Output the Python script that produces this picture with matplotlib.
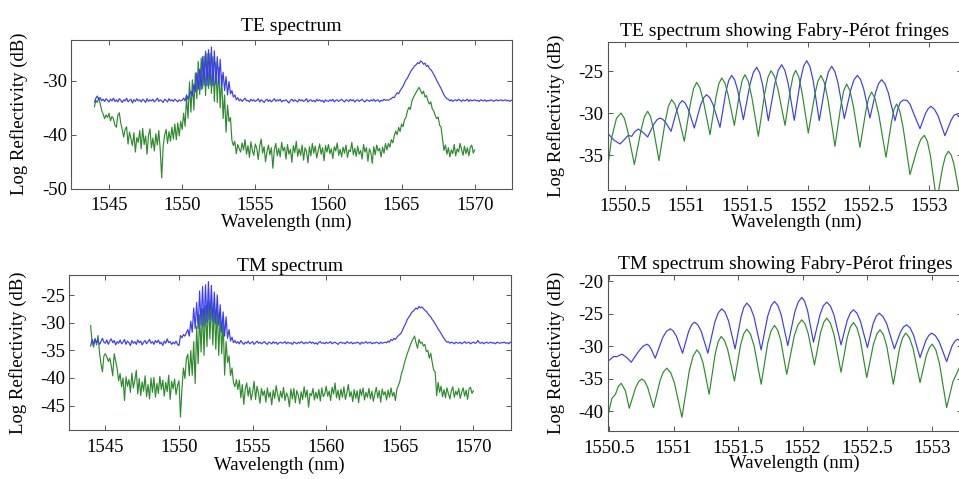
import numpy as np
import matplotlib
matplotlib.use("Agg")
import matplotlib.pyplot as plt

plt.rcParams['font.family'] = ['Liberation Serif', 'DejaVu Serif']
plt.rcParams['axes.unicode_minus'] = False

# ---------------- full spectra, sampled every 0.1 nm from 1544.0 nm ----------------
WL_START = 1544.0
WL_STEP = 0.1

te_green = [
    -34.8, -33.6, -34.0, -33.1, -34.3, -35.5, -36.2, -37.0, -36.3, -36.8,
    -36.0, -37.4, -36.6, -37.0, -38.2, -38.6, -36.4, -35.9, -37.8, -39.0,
    -40.4, -39.0, -38.5, -41.7, -39.5, -40.8, -42.0, -39.6, -43.2, -40.5,
    -41.4, -39.2, -42.6, -38.8, -41.8, -40.2, -43.6, -40.0, -38.9, -42.4,
    -40.6, -43.0, -39.8, -41.9, -39.2, -42.8, -48.0, -42.2, -40.1, -39.0,
    -41.6, -39.4, -41.2, -38.6, -40.8, -38.0, -40.9, -37.8, -40.2, -37.5,
    -39.0, -36.0, -38.4, -33.0, -36.9, -30.2, -35.8, -29.8, -35.4, -28.5,
    -33.3, -26.4, -32.5, -25.8, -31.4, -25.4, -32.7, -24.9, -31.4, -24.9,
    -32.3, -25.5, -33.8, -26.5, -34.0, -27.5, -35.0, -28.9, -37.0, -32.6,
    -39.5, -34.5, -37.5, -36.8, -41.0, -42.0, -41.2, -43.5, -41.8, -42.6,
    -43.2, -41.5, -42.8, -40.9, -43.6, -42.0, -44.2, -41.3, -42.9, -43.8,
    -41.7, -42.5, -44.6, -42.1, -40.8, -43.4, -42.2, -45.0, -43.1, -41.9,
    -43.7, -42.4, -46.2, -42.8, -41.6, -43.9, -42.5, -44.1, -41.4, -43.0,
    -42.3, -44.5, -41.8, -43.6, -42.7, -45.1, -42.0, -43.3, -41.2, -44.0,
    -42.6, -43.8, -41.9, -44.7, -42.4, -43.1, -45.2, -42.2, -43.9, -41.6,
    -43.4, -42.1, -44.3, -42.9, -41.7, -43.6, -42.4, -44.8, -42.0, -43.2,
    -41.8, -43.5, -42.6, -44.4, -42.2, -43.0, -41.5, -43.8, -42.7, -44.1,
    -42.3, -43.4, -41.9, -44.2, -42.8, -43.1, -41.4, -43.7, -42.5, -44.0,
    -42.1, -43.6, -42.9, -44.5, -41.8, -43.2, -42.4, -44.9, -42.6, -43.3,
    -45.3, -42.2, -43.7, -41.9, -43.0, -42.5, -44.1, -42.3, -43.4, -41.6,
    -42.8, -41.6, -42.3, -40.9, -41.5, -40.2, -39.3, -40.0, -38.6, -39.4,
    -38.0, -38.5, -37.2, -36.8, -35.6, -34.9, -35.3, -33.8, -33.1, -32.6,
    -32.1, -31.6, -31.2, -31.8, -32.4, -31.9, -33.0, -32.7, -33.7, -34.3,
    -33.9, -35.2, -35.6, -36.4, -37.0, -36.7, -38.2, -38.6, -40.8, -42.9,
    -41.9, -43.6, -42.4, -44.1, -42.8, -43.5, -41.8, -43.9, -42.6, -43.2,
    -41.6, -42.7, -43.8, -42.1, -43.5, -42.4, -43.9, -42.3, -41.9, -43.4,
    -42.8,
]

te_blue = [
    -33.9, -33.2, -32.8, -33.5, -33.1, -33.7, -33.4, -33.8, -33.3, -33.6,
    -33.9, -33.4, -33.7, -33.2, -33.8, -33.5, -33.9, -33.3, -33.6, -34.0,
    -33.5, -33.7, -33.2, -33.9, -33.6, -33.4, -34.1, -33.5, -33.8, -33.3,
    -33.7, -33.5, -33.9, -33.4, -33.6, -34.0, -33.3, -33.8, -33.5, -33.7,
    -33.4, -33.9, -33.6, -33.2, -33.8, -33.5, -33.7, -34.0, -33.4, -33.6,
    -33.9, -33.3, -33.7, -33.5, -33.8, -33.4, -33.6, -33.9, -33.5, -33.7,
    -33.6, -33.2, -33.7, -32.6, -33.4, -32.6, -31.9, -32.8, -30.6, -32.0,
    -28.5, -31.6, -27.8, -31.6, -25.5, -30.8, -24.5, -30.9, -24.2, -30.8,
    -23.7, -30.9, -24.4, -30.6, -25.5, -30.6, -26.0, -30.9, -28.4, -31.8,
    -29.2, -32.6, -30.1, -32.4, -31.8, -33.0, -32.6, -33.5, -33.1, -33.7,
    -33.4, -33.8, -33.5, -33.2, -33.7, -33.6, -33.9, -33.4, -33.7, -33.5,
    -33.8, -33.6, -33.3, -33.9, -33.5, -33.7, -34.0, -33.6, -33.4, -33.8,
    -33.5, -33.9, -33.6, -33.3, -33.8, -33.5, -33.7, -33.4, -33.9, -33.6,
    -33.7, -33.5, -33.8, -34.1, -33.6, -33.4, -33.8, -33.5, -33.7, -33.9,
    -33.4, -33.7, -33.5, -33.8, -33.6, -33.3, -33.9, -33.6, -33.5, -33.8,
    -33.6, -33.9, -33.4, -33.7, -33.5, -33.8, -33.6, -34.0, -33.5, -33.7,
    -33.8, -33.5, -33.7, -33.4, -33.9, -33.6, -33.5, -33.8, -33.6, -33.4,
    -33.7, -33.9, -33.5, -33.6, -33.8, -33.4, -33.7, -33.5, -33.9, -33.6,
    -33.5, -33.8, -33.6, -33.4, -33.7, -33.9, -33.5, -33.6, -33.8, -33.5,
    -33.7, -33.4, -33.8, -33.6, -33.5, -33.9, -33.6, -33.7, -33.4, -33.6,
    -33.5, -33.6, -33.4, -33.3, -33.0, -33.1, -32.6, -32.2, -32.4, -31.8,
    -31.4, -31.0, -30.4, -29.8, -29.5, -28.9, -28.4, -27.9, -27.6, -27.2,
    -27.0, -26.6, -26.8, -26.3, -26.5, -26.9, -26.7, -27.3, -27.1, -27.7,
    -27.9, -28.3, -28.8, -29.3, -29.9, -30.4, -30.9, -31.4, -32.0, -32.6,
    -33.0, -33.3, -33.4, -33.7, -33.5, -33.8, -33.6, -33.5, -33.7, -33.4,
    -33.6, -33.8, -33.5, -33.7, -33.6, -33.4, -33.8, -33.5, -33.7, -33.6,
    -33.5, -33.7, -33.6, -33.8, -33.5, -33.6, -33.7, -33.5, -33.8, -33.6,
    -33.7, -33.5, -33.6, -33.8, -33.6, -33.5, -33.7, -33.6, -33.5, -33.7,
    -33.6, -33.5, -33.7, -33.6, -33.8, -33.6, -33.5,
]

tm_green = [
    -30.5, -33.6, -34.4, -32.9, -34.0, -32.3, -35.3, -37.4, -38.9, -36.0,
    -35.6, -36.2, -37.0, -36.4, -37.8, -39.6, -35.6, -36.9, -38.3, -40.5,
    -39.2, -41.6, -40.0, -44.1, -39.8, -41.5, -40.3, -42.6, -39.1, -41.8,
    -40.4, -38.6, -42.9, -40.1, -43.2, -40.7, -42.4, -39.6, -43.4, -41.2,
    -43.8, -40.0, -42.6, -39.9, -43.5, -41.0, -42.8, -39.7, -42.1, -40.4,
    -43.3, -40.8, -42.5, -39.5, -43.9, -40.6, -42.0, -40.2, -43.0, -41.4,
    -40.5, -47.1, -42.0, -38.2, -40.1, -36.5, -35.7, -39.6, -35.0, -39.5,
    -33.4, -41.0, -30.6, -37.4, -28.5, -35.3, -27.4, -35.9, -26.8, -34.3,
    -25.9, -32.9, -25.7, -34.0, -26.3, -34.8, -27.5, -35.9, -28.0, -35.6,
    -29.7, -39.5, -33.4, -37.2, -36.0, -39.6, -38.2, -40.8, -41.6, -40.3,
    -42.1, -40.4, -43.6, -41.2, -44.8, -42.0, -40.9, -43.3, -41.7, -44.0,
    -42.5, -40.6, -43.9, -41.5, -42.8, -44.6, -41.9, -43.2, -42.3, -44.4,
    -41.8, -43.5, -42.6, -44.9, -42.2, -43.7, -41.4, -43.0, -44.3, -42.4,
    -43.6, -41.7, -44.1, -42.7, -43.4, -45.2, -42.0, -43.8, -41.9, -44.5,
    -42.3, -43.1, -44.7, -42.5, -43.9, -41.6, -43.5, -42.2, -45.3, -42.8,
    -43.2, -41.9, -44.0, -42.6, -43.7, -42.1, -44.2, -41.8, -43.4, -42.9,
    -41.5, -43.3, -42.4, -44.1, -41.7, -42.9, -40.9, -43.6, -42.2, -44.0,
    -42.0, -43.5, -41.6, -43.9, -42.7, -41.2, -43.4, -42.5, -44.3, -42.1,
    -43.7, -42.3, -44.5, -42.0, -43.2, -41.8, -44.0, -42.6, -43.5, -41.9,
    -43.8, -42.4, -44.2, -42.9, -41.7, -43.6, -42.3, -44.4, -42.0, -43.1,
    -42.5, -44.0, -42.2, -43.5, -41.8, -43.3, -42.6, -44.1, -42.0, -41.4,
    -40.6, -39.3, -38.5, -37.4, -36.5, -35.6, -34.9, -34.1, -33.4, -32.9,
    -32.4, -33.6, -34.6, -33.0, -33.7, -33.5, -34.2, -33.9, -35.2, -35.0,
    -36.4, -35.5, -37.2, -38.6, -38.9, -43.2, -40.8, -42.6, -41.5, -43.4,
    -42.1, -43.6, -41.8, -42.9, -43.8, -42.3, -41.6, -43.5, -42.4, -43.1,
    -41.9, -43.7, -42.6, -41.8, -43.3, -42.2, -43.9, -42.0, -41.7, -42.8,
    -42.3,
]

tm_blue = [
    -34.2, -33.0, -33.8, -32.9, -33.6, -33.2, -33.9, -33.4, -32.8, -33.5,
    -33.7, -33.1, -33.9, -33.3, -32.9, -33.6, -33.2, -34.0, -33.4, -33.7,
    -33.1, -33.8, -33.5, -33.0, -33.9, -33.3, -33.6, -34.1, -33.2, -33.7,
    -33.4, -33.9, -33.1, -33.6, -33.3, -34.0, -33.5, -33.2, -33.8, -33.4,
    -33.0, -33.7, -33.4, -33.9, -33.2, -33.6, -33.1, -33.8, -33.5, -34.1,
    -33.3, -33.7, -32.9, -33.6, -33.4, -33.9, -33.5, -33.8, -33.3, -33.9,
    -34.1, -32.3, -32.7, -32.1, -32.4, -31.8, -31.2, -32.4, -29.7, -31.7,
    -27.3, -31.0, -26.3, -31.0, -24.2, -30.4, -23.4, -30.6, -23.1, -29.9,
    -22.5, -29.4, -23.2, -29.8, -24.4, -30.2, -24.9, -30.4, -26.7, -31.7,
    -28.0, -32.4, -28.9, -32.8, -31.2, -33.3, -32.6, -33.6, -33.2, -33.7,
    -33.4, -33.8, -33.2, -33.6, -33.9, -33.5, -33.7, -33.3, -33.8, -33.6,
    -33.4, -33.9, -33.6, -33.3, -33.7, -33.5, -33.8, -33.6, -33.4, -33.7,
    -33.9, -33.5, -33.6, -33.8, -33.4, -33.7, -33.5, -33.9, -33.6, -33.5,
    -33.7, -33.6, -33.4, -33.8, -33.5, -33.7, -33.6, -33.9, -33.5, -33.6,
    -33.8, -33.5, -33.7, -33.4, -33.6, -33.8, -33.5, -33.7, -33.6, -33.4,
    -33.7, -33.5, -33.8, -33.6, -33.9, -33.5, -33.4, -33.7, -33.6, -33.8,
    -33.5, -33.7, -33.6, -33.4, -33.8, -33.6, -33.5, -33.7, -33.9, -33.6,
    -33.5, -33.7, -33.6, -33.8, -33.4, -33.6, -33.7, -33.5, -33.8, -33.6,
    -33.7, -33.5, -33.6, -33.9, -33.5, -33.7, -33.6, -33.4, -33.7, -33.6,
    -33.5, -33.8, -33.6, -33.7, -33.5, -33.6, -33.8, -33.5, -33.7, -33.6,
    -33.5, -33.6, -33.3, -33.5, -33.0, -33.2, -32.8, -33.0, -32.6, -32.3,
    -32.1, -31.8, -31.2, -30.6, -30.1, -29.4, -29.0, -28.6, -28.1, -27.9,
    -27.6, -27.3, -27.5, -27.0, -27.3, -27.1, -27.4, -27.7, -27.9, -28.3,
    -28.6, -28.9, -29.4, -29.7, -30.2, -30.6, -31.1, -31.5, -31.9, -32.4,
    -32.8, -33.2, -33.5, -33.4, -33.7, -33.5, -33.6, -33.8, -33.5, -33.6,
    -33.7, -33.5, -33.8, -33.6, -33.4, -33.7, -33.6, -33.5, -33.8, -33.6,
    -33.5, -33.7, -33.6, -33.2, -33.6, -33.7, -33.5, -33.8, -33.6, -33.5,
    -33.7, -33.6, -33.5, -33.7, -33.6, -33.8, -33.5, -33.6, -33.7, -33.6,
    -33.6, -33.5, -33.7, -33.6, -33.8, -33.5, -33.6,
]

# ---------------- zoomed Fabry-Perot fringes: (wavelength nm, dB) ----------------
te_fp_blue = [
    (1550.363, -32.46), (1550.41, -33.2), (1550.459, -33.65), (1550.49, -33.2), (1550.527, -32.62),
    (1550.555, -32.74), (1550.58, -32.2), (1550.609, -31.87), (1550.65, -32.3), (1550.686, -32.82),
    (1550.737, -31.28), (1550.762, -30.78), (1550.787, -30.56), (1550.81, -30.71), (1550.833, -31.07),
    (1550.878, -32.14), (1550.925, -29.66), (1550.948, -28.84), (1550.971, -28.49), (1550.995, -28.80),
    (1551.02, -29.53), (1551.069, -31.75), (1551.12, -29.05), (1551.145, -28.16), (1551.170, -27.78),
    (1551.197, -28.16), (1551.225, -29.03), (1551.280, -31.67), (1551.328, -27.46), (1551.352, -26.07),
    (1551.376, -25.48), (1551.40, -25.99), (1551.424, -27.17), (1551.472, -30.75), (1551.527, -26.51),
    (1551.554, -25.12), (1551.581, -24.52), (1551.605, -25.13), (1551.629, -26.55), (1551.677, -30.87),
    (1551.732, -26.34), (1551.759, -24.85), (1551.786, -24.21), (1551.812, -24.85), (1551.838, -26.33),
    (1551.890, -30.83), (1551.941, -26.0), (1551.966, -24.41), (1551.992, -23.73), (1552.018, -24.41),
    (1552.044, -26.01), (1552.095, -30.87), (1552.146, -26.47), (1552.171, -25.02), (1552.197, -24.40),
    (1552.223, -25.0), (1552.249, -26.39), (1552.301, -30.63), (1552.355, -27.13), (1552.381, -25.98),
    (1552.408, -25.48), (1552.434, -25.97), (1552.46, -27.11), (1552.511, -30.56), (1552.559, -27.45),
    (1552.583, -26.43), (1552.607, -25.99), (1552.634, -26.46), (1552.662, -27.55), (1552.717, -30.87),
    (1552.74, -29.5), (1552.76, -28.7), (1552.785, -28.42), (1552.815, -28.45), (1552.84, -28.9),
    (1552.875, -30.2), (1552.922, -31.83), (1552.967, -30.02), (1552.99, -29.43), (1553.012, -29.17),
    (1553.04, -29.5), (1553.07, -30.29), (1553.127, -32.66), (1553.175, -30.91), (1553.2, -30.25),
    (1553.223, -30.08), (1553.27, -30.9),
]

te_fp_green = [
    (1550.358, -36.5), (1550.39, -32.94), (1550.43, -30.6), (1550.467, -29.96), (1550.495, -30.6),
    (1550.522, -32.11), (1550.577, -36.11), (1550.632, -31.98), (1550.659, -30.43), (1550.686, -29.76),
    (1550.71, -30.38), (1550.733, -31.81), (1550.779, -35.63), (1550.831, -30.91), (1550.857, -29.13),
    (1550.883, -28.37), (1550.909, -28.89), (1550.935, -30.11), (1550.987, -33.33), (1551.038, -28.77),
    (1551.063, -27.05), (1551.088, -26.31), (1551.115, -26.96), (1551.143, -28.49), (1551.198, -32.54),
    (1551.246, -28.15), (1551.27, -26.5), (1551.294, -25.79), (1551.32, -26.38), (1551.346, -27.76),
    (1551.398, -31.43), (1551.442, -27.51), (1551.463, -26.03), (1551.485, -25.40), (1551.512, -26.17),
    (1551.54, -27.97), (1551.595, -32.74), (1551.647, -27.66), (1551.673, -25.74), (1551.699, -24.92),
    (1551.728, -25.6), (1551.757, -27.2), (1551.814, -31.43), (1551.858, -27.17), (1551.88, -25.57),
    (1551.901, -24.88), (1551.927, -25.66), (1551.953, -27.49), (1552.005, -32.34), (1552.057, -27.88),
    (1552.083, -26.2), (1552.109, -25.48), (1552.138, -26.37), (1552.167, -28.44), (1552.224, -33.93),
    (1552.272, -29.11), (1552.296, -27.29), (1552.32, -26.51), (1552.347, -27.3), (1552.375, -29.15),
    (1552.429, -34.05), (1552.477, -29.77), (1552.501, -28.15), (1552.525, -27.46), (1552.554, -28.28),
    (1552.584, -30.18), (1552.643, -35.24), (1552.687, -31.11), (1552.708, -29.56), (1552.73, -28.89),
    (1552.757, -29.77), (1552.785, -31.83), (1552.84, -37.3), (1552.899, -34.26), (1552.928, -33.11),
    (1552.958, -32.62), (1552.983, -33.36), (1553.008, -35.09), (1553.059, -40.5), (1553.107, -36.5),
    (1553.131, -35.1), (1553.155, -34.52), (1553.178, -34.96), (1553.2, -36.0), (1553.242, -39.3),
    (1553.27, -41.0),
]

tm_fp_blue = [
    (1550.484, -32.46), (1550.535, -31.58), (1550.561, -31.6), (1550.60, -31.22), (1550.636, -31.7),
    (1550.672, -32.46), (1550.729, -30.81), (1550.762, -30.02), (1550.794, -29.68), (1550.81, -29.9),
    (1550.826, -30.4), (1550.858, -31.84), (1550.916, -28.67), (1550.945, -27.72), (1550.974, -27.31),
    (1550.998, -27.65), (1551.022, -28.44), (1551.07, -31.07), (1551.117, -27.72), (1551.14, -26.72),
    (1551.163, -26.29), (1551.189, -26.72), (1551.215, -27.72), (1551.266, -31.07), (1551.32, -26.28),
    (1551.347, -24.85), (1551.374, -24.23), (1551.4, -24.79), (1551.426, -26.08), (1551.477, -30.4),
    (1551.523, -25.47), (1551.545, -23.99), (1551.568, -23.35), (1551.596, -24.0), (1551.624, -25.51),
    (1551.679, -30.56), (1551.73, -25.34), (1551.756, -23.77), (1551.782, -23.1), (1551.808, -23.71),
    (1551.834, -25.14), (1551.885, -29.89), (1551.94, -24.7), (1551.967, -23.15), (1551.994, -22.48),
    (1552.016, -23.1), (1552.039, -24.55), (1552.084, -29.37), (1552.136, -25.05), (1552.161, -23.76),
    (1552.187, -23.2), (1552.215, -23.79), (1552.243, -25.17), (1552.298, -29.78), (1552.346, -26.0),
    (1552.37, -24.87), (1552.394, -24.38), (1552.421, -24.9), (1552.448, -26.13), (1552.502, -30.2),
    (1552.547, -26.49), (1552.57, -25.38), (1552.592, -24.9), (1552.622, -25.4), (1552.652, -26.55),
    (1552.711, -30.4), (1552.758, -27.81), (1552.782, -27.03), (1552.806, -26.7), (1552.832, -27.15),
    (1552.858, -28.21), (1552.91, -31.74), (1552.955, -29.11), (1552.978, -28.32), (1553.0, -27.98),
    (1553.029, -28.37), (1553.058, -29.29), (1553.116, -32.36), (1553.158, -29.95), (1553.18, -29.22),
    (1553.201, -28.91), (1553.25, -29.6),
]

tm_fp_green = [
    (1550.484, -41.36), (1550.523, -38.0), (1550.55, -37.4), (1550.572, -36.2), (1550.595, -35.7),
    (1550.628, -36.9), (1550.657, -39.56), (1550.706, -36.39), (1550.73, -35.44), (1550.755, -35.03),
    (1550.778, -35.43), (1550.8, -36.36), (1550.845, -39.45), (1550.897, -35.2), (1550.922, -33.93),
    (1550.948, -33.38), (1550.978, -34.06), (1551.007, -35.65), (1551.065, -40.95), (1551.123, -33.68),
    (1551.152, -31.5), (1551.181, -30.56), (1551.205, -31.18), (1551.229, -32.61), (1551.276, -37.4),
    (1551.323, -31.17), (1551.346, -29.3), (1551.369, -28.5), (1551.395, -29.12), (1551.42, -30.55),
    (1551.472, -35.34), (1551.52, -29.76), (1551.544, -28.09), (1551.568, -27.37), (1551.596, -28.13),
    (1551.624, -29.91), (1551.679, -35.85), (1551.73, -29.52), (1551.756, -27.62), (1551.782, -26.8),
    (1551.806, -27.48), (1551.83, -29.05), (1551.877, -34.31), (1551.935, -28.44), (1551.965, -26.68),
    (1551.994, -25.93), (1552.019, -26.55), (1552.043, -28.01), (1552.092, -32.87), (1552.14, -27.83),
    (1552.164, -26.32), (1552.187, -25.67), (1552.215, -26.42), (1552.243, -28.17), (1552.298, -34.0),
    (1552.346, -28.64), (1552.37, -27.03), (1552.394, -26.34), (1552.42, -27.11), (1552.446, -28.89),
    (1552.497, -34.83), (1552.549, -29.68), (1552.575, -28.13), (1552.6, -27.47), (1552.626, -28.22),
    (1552.652, -29.98), (1552.703, -35.85), (1552.751, -30.34), (1552.775, -28.69), (1552.799, -27.98),
    (1552.827, -28.67), (1552.855, -30.27), (1552.91, -35.6), (1552.958, -31.46), (1552.982, -30.21),
    (1553.005, -29.68), (1553.032, -30.56), (1553.06, -32.61), (1553.116, -39.45), (1553.164, -35.5),
    (1553.212, -33.38), (1553.25, -32.6),
]

titles = ["TE spectrum", "TE spectrum showing Fabry-Pérot fringes",
          "TM spectrum", "TM spectrum showing Fabry-Pérot fringes"]
wide_xticks = [1545, 1550, 1555, 1560, 1565, 1570]
fp_xticks = [1550.5, 1551, 1551.5, 1552, 1552.5, 1553]
fp_xticklabels = ["1550.5", "1551", "1551.5", "1552", "1552.5", "1553"]
te_yticks = [-50, -40, -30]
tm_yticks = [-45, -40, -35, -30, -25]
te_fp_yticks = [-35, -30, -25]
tm_fp_yticks = [-40, -35, -30, -25, -20]

BLUE = '#3b3bf2'
GREEN = '#2f8a2f'
SPINE = '#555555'
LW = 0.85

W, H = 959, 479
fig = plt.figure(figsize=(W / 100, H / 100), dpi=100)


def add_axes(l, t, r, b):
    return fig.add_axes([l / W, 1 - b / H, (r - l) / W, (b - t) / H])


def style(ax, title, title_pad, ylab_x, xlab_xy):
    ax.set_title(title, fontsize=14, pad=title_pad)
    for s in ax.spines.values():
        s.set_color(SPINE)
        s.set_linewidth(0.8)
    ax.tick_params(direction='in', top=True, right=True, length=3.5, width=0.7,
                   color=SPINE, labelsize=13.5)
    ax.tick_params(axis='x', pad=6)
    ax.tick_params(axis='y', pad=3)
    ax.set_xlabel("Wavelength (nm)", fontsize=13.5)
    ax.set_ylabel("Log Reflectivity (dB)", fontsize=13.5)
    ax.yaxis.set_label_coords(ylab_x, 0.5)
    ax.xaxis.set_label_coords(*xlab_xy)


def wl_grid(n):
    return WL_START + WL_STEP * np.arange(n)


def xy(pairs):
    return [p[0] for p in pairs], [p[1] for p in pairs]


# Top-left: TE spectrum
ax1 = add_axes(71.3, 39.7, 512, 188.7)
ax1.plot(wl_grid(len(te_green)), te_green, color=GREEN, lw=LW)
ax1.plot(wl_grid(len(te_blue)), te_blue, color=BLUE, lw=LW)
ax1.set_xlim(1542.42, 1572.55)
ax1.set_ylim(-49.8, -22.35)
ax1.set_xticks(wide_xticks)
ax1.set_yticks(te_yticks)
style(ax1, titles[0], 6, -0.098, (0.489, -0.17))

# Top-right: TE fringes
ax2 = add_axes(607.7, 42, 962, 189.7)
ax2.plot(*xy(te_fp_blue), color=BLUE, lw=LW)
ax2.plot(*xy(te_fp_green), color=GREEN, lw=LW)
ax2.set_xlim(1550.358, 1553.267)
ax2.set_ylim(-39.1, -21.5)
ax2.set_xticks(fp_xticks)
ax2.set_xticklabels(fp_xticklabels)
ax2.set_yticks(te_fp_yticks)
style(ax2, titles[1], 4, -0.12, (0.533, -0.165))

# Bottom-left: TM spectrum
ax3 = add_axes(69.3, 274.7, 511, 430.3)
ax3.plot(wl_grid(len(tm_green)), tm_green, color=GREEN, lw=LW)
ax3.plot(wl_grid(len(tm_blue)), tm_blue, color=BLUE, lw=LW)
ax3.set_xlim(1542.55, 1572.55)
ax3.set_ylim(-49.5, -21.25)
ax3.set_xticks(wide_xticks)
ax3.set_yticks(tm_yticks)
style(ax3, titles[2], 3, -0.096, (0.475, -0.17))

# Bottom-right: TM fringes
ax4 = add_axes(607.7, 274.7, 962, 431.3)
ax4.plot(*xy(tm_fp_blue), color=BLUE, lw=LW)
ax4.plot(*xy(tm_fp_green), color=GREEN, lw=LW)
ax4.set_xlim(1550.49, 1553.235)
ax4.set_ylim(-43.1, -18.98)
ax4.set_xticks(fp_xticks)
ax4.set_xticklabels(fp_xticklabels)
ax4.set_yticks(tm_fp_yticks)
style(ax4, titles[3], 4, -0.12, (0.528, -0.15))

fig.savefig("out.png", dpi=100)
